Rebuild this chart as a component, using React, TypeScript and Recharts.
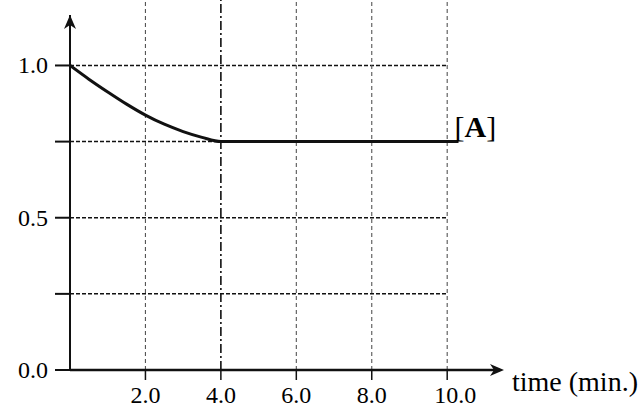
import React from 'react';
import {
  ComposedChart,
  XAxis,
  YAxis,
  Line,
  ReferenceLine,
  ReferenceDot,
} from 'recharts';

const times = [0, 0.5, 1, 1.5, 2, 2.5, 3, 3.5, 4, 10.3];
const concA = [1.0, 0.955, 0.913, 0.873, 0.837, 0.807, 0.783, 0.764, 0.75, 0.75];
const xTicks = [2, 4, 6, 8, 10];
const yTicks = [0, 0.25, 0.5, 0.75, 1.0];
const yLabelled = [0, 0.5, 1.0];
const xMax = 11.4;
const yMax = 1.215;
const yArrow = 1.166;

const data = times.map((t, i) => ({ t, a: concA[i] }));

const FONT = "'Liberation Serif', 'DejaVu Serif', serif";

const XTick = (props: any) => {
  const { x, y, payload } = props;
  const shift = payload.value === 10 ? 8 : 0;
  return (
    <text x={x + shift} y={y + 21} textAnchor="middle" fontFamily={FONT} fontSize={24} fill="#000">
      {payload.value.toFixed(1)}
    </text>
  );
};

const YTick = (props: any) => {
  const { x, y, payload } = props;
  if (!yLabelled.includes(payload.value)) return <g />;
  return (
    <text x={x} y={y + 8} textAnchor="end" fontFamily={FONT} fontSize={24} fill="#000">
      {payload.value.toFixed(1)}
    </text>
  );
};

const XArrow = (props: any) => {
  const { cx, cy } = props;
  return (
    <g>
      <polygon
        points={`${cx + 4},${cy} ${cx - 10},${cy - 6} ${cx - 6},${cy} ${cx - 10},${cy + 6}`}
        fill="#111"
      />
      <text x={cx + 12} y={cy + 21} fontFamily={FONT} fontSize={28} fill="#000">
        time (min.)
      </text>
    </g>
  );
};

const YArrow = (props: any) => {
  const { cx, cy } = props;
  return (
    <polygon
      points={`${cx},${cy} ${cx - 6},${cy + 14} ${cx},${cy + 10} ${cx + 6},${cy + 14}`}
      fill="#111"
    />
  );
};

const ALabel = (props: any) => {
  const { cx, cy } = props;
  return (
    <text x={cx - 4} y={cy - 5} fontFamily={FONT} fontSize={30} fill="#000">
      [<tspan fontWeight="bold">A</tspan>]
    </text>
  );
};

export default function App() {
  return (
    <div style={{ position: 'absolute', left: 0, top: 0, background: '#fff' }}>
      <ComposedChart
        width={643}
        height={408}
        data={data}
        margin={{ top: 0, right: 143, bottom: 0, left: 0 }}
      >
        <XAxis
          dataKey="t"
          type="number"
          domain={[0, xMax]}
          ticks={xTicks}
          allowDataOverflow
          height={38}
          tickSize={10}
          axisLine={{ stroke: '#111', strokeWidth: 2.5 }}
          tickLine={{ stroke: '#111', strokeWidth: 1.5 }}
          tick={XTick}
        />
        <YAxis
          type="number"
          domain={[0, yMax]}
          ticks={yTicks}
          allowDataOverflow
          width={70}
          tickSize={15}
          tickMargin={7}
          axisLine={false}
          tickLine={{ stroke: '#111', strokeWidth: 2 }}
          tick={YTick}
        />
        {yTicks
          .filter((v) => v > 0)
          .map((v) => (
            <ReferenceLine
              key={`h${v}`}
              segment={[{ x: 0, y: v }, { x: 10, y: v }]}
              stroke="#111"
              strokeWidth={1.5}
              strokeDasharray="4 2"
              ifOverflow="visible"
            />
          ))}
        {xTicks.map((v) => (
          <ReferenceLine
            key={`v${v}`}
            segment={[{ x: v, y: 0 }, { x: v, y: yMax }]}
            stroke={v === 4 ? '#111' : '#555'}
            strokeWidth={v === 4 ? 1.6 : 1.1}
            strokeDasharray={v === 4 ? '9 3 2 3' : '4 3'}
            ifOverflow="visible"
          />
        ))}
        <ReferenceLine
          segment={[{ x: 0, y: 0 }, { x: 0, y: yArrow }]}
          stroke="#111"
          strokeWidth={2}
          ifOverflow="visible"
        />
        <ReferenceDot x={0} y={yArrow} r={0} shape={YArrow} ifOverflow="visible" />
        <ReferenceDot x={xMax} y={0} r={0} shape={XArrow} ifOverflow="visible" />
        <Line
          type="monotone"
          dataKey="a"
          stroke="#111"
          strokeWidth={3}
          dot={false}
          isAnimationActive={false}
        />
        <ReferenceDot x={10.3} y={0.75} r={0} shape={ALabel} ifOverflow="visible" />
      </ComposedChart>
    </div>
  );
}
